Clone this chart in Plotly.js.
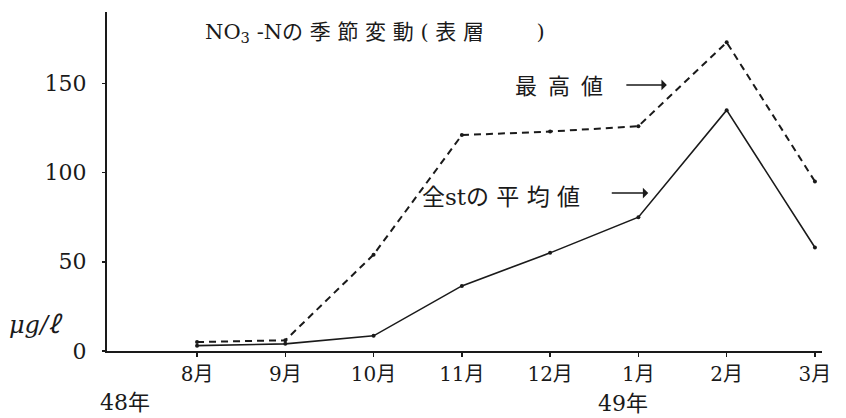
<!DOCTYPE html>
<html>
<head>
<meta charset="utf-8">
<script src="https://cdn.plot.ly/plotly-3.0.1.min.js"></script>
<style>html,body{margin:0;padding:0;background:#fff;}#chart{width:846px;height:418px;}</style>
</head>
<body>
<div id="chart"></div>
<script>
// Data
const months = ['8月', '9月', '10月', '11月', '12月', '1月', '2月', '3月'];
const maxVals = [5, 6, 54, 121, 123, 126, 173, 95];      // 最高値 (dashed)
const meanVals = [3, 4, 8.5, 36.5, 55, 75, 135, 58];     // 全stの平均値 (solid)
const yTicks = [0, 50, 100, 150];
const yearLabels = ['48年', '49年'];

const xPos = months.map((m, i) => i + 1);
const FONT = "DejaVu Serif, Noto Sans CJK JP, serif";
const INK = '#1a1a1a';

const traces = [
  {
    x: xPos, y: maxVals, type: 'scatter', mode: 'lines+markers',
    line: {color: INK, width: 2, dash: '7px,5px'},
    marker: {color: INK, size: 4},
    hoverinfo: 'skip', showlegend: false
  },
  {
    x: xPos, y: meanVals, type: 'scatter', mode: 'lines+markers',
    line: {color: INK, width: 1.6},
    marker: {color: INK, size: 4},
    hoverinfo: 'skip', showlegend: false
  }
];

const layout = {
  width: 846, height: 418,
  margin: {l: 107, r: 24, t: 12, b: 67},
  paper_bgcolor: '#fff', plot_bgcolor: '#fff',
  font: {family: FONT, color: INK, size: 20},
  xaxis: {
    range: [-0.02, 8.08],
    tickvals: xPos, ticktext: months,
    showgrid: false, zeroline: false,
    showline: true, linecolor: INK, linewidth: 2,
    ticks: 'outside', ticklen: 4, tickcolor: INK, tickwidth: 1.5,
    ticklabelstandoff: 0,
    tickfont: {family: FONT, size: 20, color: INK},
    fixedrange: true
  },
  yaxis: {
    range: [0, 190],
    tickvals: yTicks, ticktext: yTicks.map(String),
    showgrid: false, zeroline: false,
    showline: true, linecolor: INK, linewidth: 2,
    ticks: 'outside', ticklen: 3, tickcolor: INK, tickwidth: 1.5,
    ticklabelstandoff: 11,
    tickfont: {family: FONT, size: 22, color: INK},
    fixedrange: true
  },
  annotations: [
    {xref: 'paper', yref: 'paper', x: 0.134, y: 0.938, xanchor: 'left', yanchor: 'middle',
     text: 'NO<sub>3</sub> -Nの 季 節 変 動 ( 表 層\u2003\u2003\u2002)', showarrow: false,
     font: {family: FONT, size: 21, color: INK}},
    {xref: 'paper', yref: 'paper', x: 0.568, y: 0.779, xanchor: 'left', yanchor: 'middle',
     text: '最\u2002高\u2002値', showarrow: false,
     font: {family: FONT, size: 22, color: INK}},
    {xref: 'paper', yref: 'paper', x: 0.783, y: 0.785, axref: 'pixel', ayref: 'pixel',
     ax: -42, ay: 0, text: '', showarrow: true, arrowhead: 1, arrowsize: 1.2, arrowwidth: 1.5,
     arrowcolor: INK, standoff: 0, startstandoff: 0},
    {xref: 'paper', yref: 'paper', x: 0.438, y: 0.454, xanchor: 'left', yanchor: 'middle',
     text: '全stの 平 均 値', showarrow: false,
     font: {family: FONT, size: 23, color: INK}},
    {xref: 'paper', yref: 'paper', x: 0.757, y: 0.466, axref: 'pixel', ayref: 'pixel',
     ax: -38, ay: 0, text: '', showarrow: true, arrowhead: 1, arrowsize: 1.2, arrowwidth: 1.5,
     arrowcolor: INK, standoff: 0, startstandoff: 0},
    {xref: 'paper', yref: 'paper', x: -0.099, y: 0.077, xanchor: 'center', yanchor: 'middle',
     text: '<i>μg/ℓ</i>', showarrow: false,
     font: {family: FONT, size: 24, color: INK}},
    {xref: 'paper', yref: 'paper', x: 0.025, y: -0.153, xanchor: 'center', yanchor: 'middle',
     text: yearLabels[0], showarrow: false,
     font: {family: FONT, size: 22, color: INK}},
    {xref: 'paper', yref: 'paper', x: 0.722, y: -0.156, xanchor: 'center', yanchor: 'middle',
     text: yearLabels[1], showarrow: false,
     font: {family: FONT, size: 22, color: INK}}
  ]
};

Plotly.newPlot('chart', traces, layout, {displayModeBar: false, staticPlot: true});
</script>
</body>
</html>
